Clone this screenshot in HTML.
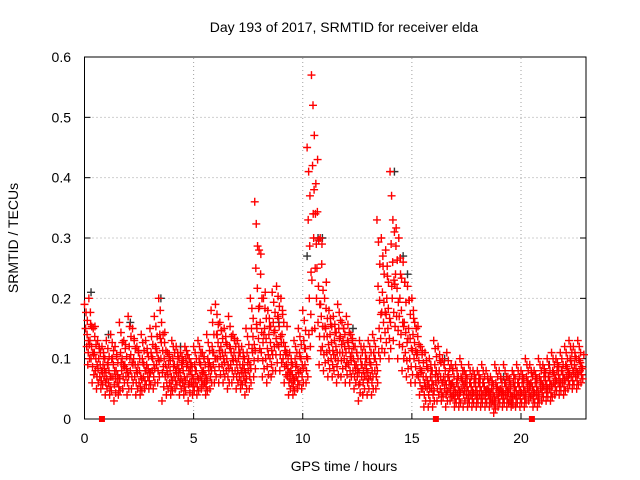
<!DOCTYPE html>
<html><head><meta charset="utf-8"><style>
html,body{margin:0;padding:0;background:#fff}
svg{display:block;font-family:"Liberation Sans",sans-serif}
</style></head><body>
<svg id="chart" width="640" height="480" viewBox="0 0 640 480">
<rect width="640" height="480" fill="#fff"/>
<text x="344" y="32" font-size="14" text-anchor="middle">Day 193 of 2017, SRMTID for receiver elda</text>
<text x="344" y="471" font-size="14" text-anchor="middle">GPS time / hours</text>
<text transform="translate(18,238) rotate(-90)" font-size="14" text-anchor="middle">SRMTID / TECUs</text>
<g id="grid"></g><g id="axes"></g><g id="marks"></g>
</svg>
<script>
const xTicks=[0,5,10,15,20];
const yTicks=[0,0.1,0.2,0.3,0.4,0.5,0.6];
const yTickLabels=["0","0.1","0.2","0.3","0.4","0.5","0.6"];
const hiVals=[0.19,0.20,0.15,0.13,0.12, 0.13,0.14,0.12,0.16,0.13, 0.17,0.15,0.12,0.14,0.13, 0.15,0.17,0.20,0.14,0.11, 0.13,0.12,0.11,0.12,0.10, 0.12,0.13,0.11,0.14,0.18, 0.19,0.16,0.15,0.17,0.14, 0.13,0.12,0.15,0.20,0.36, 0.28,0.20,0.18,0.21,0.22, 0.20,0.12,0.11,0.13,0.15, 0.18,0.45,0.57,0.39,0.30, 0.20,0.18,0.17,0.19,0.16, 0.17,0.14,0.12,0.13,0.12, 0.13,0.14,0.33,0.30,0.28, 0.41,0.31,0.30,0.26,0.22, 0.20,0.15,0.12,0.11,0.10, 0.13,0.12,0.10,0.11,0.09, 0.09,0.10,0.08,0.09,0.08, 0.08,0.09,0.08,0.07,0.09, 0.08,0.09,0.07,0.08,0.09, 0.08,0.10,0.09,0.08,0.10, 0.09,0.10,0.11,0.10,0.11, 0.12,0.13,0.12,0.13];
const midHiVals=[0.15,0.13,0.11,0.10,0.09, 0.09,0.10,0.08,0.11,0.09, 0.12,0.10,0.09,0.10,0.09, 0.11,0.12,0.14,0.10,0.09, 0.10,0.09,0.09,0.10,0.08, 0.09,0.10,0.08,0.10,0.12, 0.14,0.12,0.11,0.12,0.11, 0.10,0.09,0.11,0.15,0.25, 0.16,0.15,0.14,0.16,0.17, 0.14,0.09,0.08,0.10,0.11, 0.13,0.33,0.42,0.25,0.17, 0.15,0.14,0.13,0.15,0.13, 0.13,0.11,0.09,0.10,0.09, 0.10,0.11,0.22,0.21,0.20, 0.29,0.24,0.20,0.16,0.15, 0.14,0.11,0.08,0.07,0.07, 0.09,0.08,0.07,0.07,0.06, 0.06,0.07,0.06,0.06,0.06, 0.06,0.06,0.05,0.05,0.06, 0.05,0.06,0.05,0.06,0.06, 0.06,0.07,0.06,0.06,0.07, 0.07,0.07,0.08,0.08,0.08, 0.09,0.10,0.09,0.10];
const midLoVals=[0.12,0.10,0.08,0.07,0.07, 0.06,0.07,0.06,0.08,0.07, 0.08,0.07,0.06,0.07,0.07, 0.08,0.09,0.10,0.07,0.06, 0.07,0.07,0.06,0.07,0.06, 0.06,0.07,0.06,0.08,0.09, 0.10,0.09,0.08,0.09,0.08, 0.07,0.07,0.08,0.11,0.15, 0.11,0.10,0.10,0.12,0.12, 0.10,0.07,0.06,0.07,0.08, 0.09,0.20,0.30,0.16,0.12, 0.11,0.10,0.10,0.11,0.10, 0.09,0.08,0.07,0.07,0.07, 0.07,0.08,0.15,0.16,0.15, 0.20,0.17,0.14,0.11,0.10, 0.10,0.07,0.05,0.05,0.05, 0.06,0.05,0.05,0.05,0.04, 0.04,0.05,0.04,0.04,0.04, 0.04,0.04,0.04,0.03,0.04, 0.04,0.04,0.03,0.04,0.04, 0.04,0.05,0.04,0.04,0.05, 0.05,0.05,0.06,0.06,0.06, 0.07,0.07,0.07,0.08];
const loVals=[0.09,0.06,0.05,0.05,0.04, 0.04,0.03,0.04,0.05,0.04, 0.05,0.04,0.04,0.05,0.05, 0.05,0.06,0.03,0.04,0.04, 0.05,0.04,0.04,0.03,0.04, 0.04,0.05,0.04,0.05,0.06, 0.06,0.06,0.05,0.06,0.05, 0.05,0.04,0.05,0.07,0.10, 0.07,0.06,0.07,0.08,0.08, 0.06,0.04,0.04,0.05,0.05, 0.06,0.12,0.15,0.09,0.08, 0.07,0.07,0.06,0.07,0.06, 0.06,0.05,0.03,0.04,0.04, 0.04,0.05,0.10,0.11,0.10, 0.13,0.10,0.08,0.07,0.06, 0.06,0.04,0.02,0.02,0.02, 0.03,0.03,0.02,0.03,0.02, 0.02,0.02,0.02,0.02,0.02, 0.02,0.02,0.02,0.01,0.02, 0.02,0.02,0.02,0.02,0.02, 0.02,0.03,0.02,0.02,0.03, 0.03,0.03,0.04,0.04,0.04, 0.05,0.05,0.05,0.06];
const blackTimes=[0.3,1.1,2.1,3.5,4.4,8.9,10.2,10.7,10.9,12.3,14.2,14.6,14.8,16.5,19.2,21.3];
const blackVals=[0.21,0.14,0.16,0.20,0.12,0.16,0.27,0.30,0.30,0.15,0.41,0.27,0.24,0.10,0.07,0.09];
const flagTimes=[0.8,16.1,20.5];

const X0=84.5,X1=586,Y0=419,Y1=57;
const xs=h=>X0+h*(521-84.5)/20;
const ys=v=>Y0-v*(Y0-Y1)/0.6;
const NS="http://www.w3.org/2000/svg";
function mk(tag,attrs,parent){const e=document.createElementNS(NS,tag);for(const k in attrs)e.setAttribute(k,attrs[k]);parent.appendChild(e);return e;}
const grid=document.getElementById('grid'),axes=document.getElementById('axes'),marks=document.getElementById('marks');
xTicks.forEach(t=>{
  if(t>0){const l=mk('line',{x1:xs(t),x2:xs(t),y1:Y0,y2:Y1,stroke:'#a0a0a0','stroke-dasharray':'1,3','stroke-width':1},grid);
  
  }
  const tk=mk('line',{x1:xs(t),x2:xs(t),y1:Y0,y2:Y0-6,stroke:'#000'},axes);
  
  
  const tx=mk('text',{x:xs(t),y:443,'font-size':14,'text-anchor':'middle'},axes);tx.textContent=t;
  
  
});
yTicks.forEach((t,i)=>{
  if(t>0){const l=mk('line',{x1:X0,x2:X1,y1:ys(t),y2:ys(t),stroke:'#a0a0a0','stroke-dasharray':'1,3','stroke-width':1},grid);
  
  }
  const tk=mk('line',{x1:X0,x2:X0+6,y1:ys(t),y2:ys(t),stroke:'#000'},axes);
  
  
  const tk2=mk('line',{x1:X1,x2:X1-6,y1:ys(t),y2:ys(t),stroke:'#000'},axes);
  
  
  const tx=mk('text',{x:71,y:ys(t)+5,'font-size':14,'text-anchor':'end'},axes);tx.textContent=yTickLabels[i];
  
  
});
const frame=mk('rect',{x:X0,y:Y1,width:X1-X0,height:Y0-Y1,fill:'none',stroke:'#000'},axes);


function plus(h,v,color,name){
  const x=xs(h),y=ys(v);
  const p=mk('path',{d:`M${x-4},${y}H${x+4}M${x},${y-4}V${y+4}`,stroke:color,'stroke-width':1.4,fill:'none'},marks);
  
  
}
blackTimes.forEach((h,i)=>plus(h,blackVals[i],'#333','srmtid-point-black'));
const series=[hiVals,midHiVals,midLoVals,loVals];
series.forEach((arr,k)=>{
  arr.forEach((v,i)=>{
    const h=i*0.2+k*0.05;
    const w=series[(k+1)%4][i];
    plus(h,v,'#ff0000','srmtid-point');
    plus(h+0.07,(2*v+w)/3,'#ff0000','srmtid-point');
    plus(h+0.13,(v+2*w)/3,'#ff0000','srmtid-point');
  });
});
flagTimes.forEach(h=>{
  const r=mk('rect',{x:xs(h)-3,y:Y0-3,width:6,height:6,fill:'#ff0000'},marks);
  
  
});
</script>
</body></html>
